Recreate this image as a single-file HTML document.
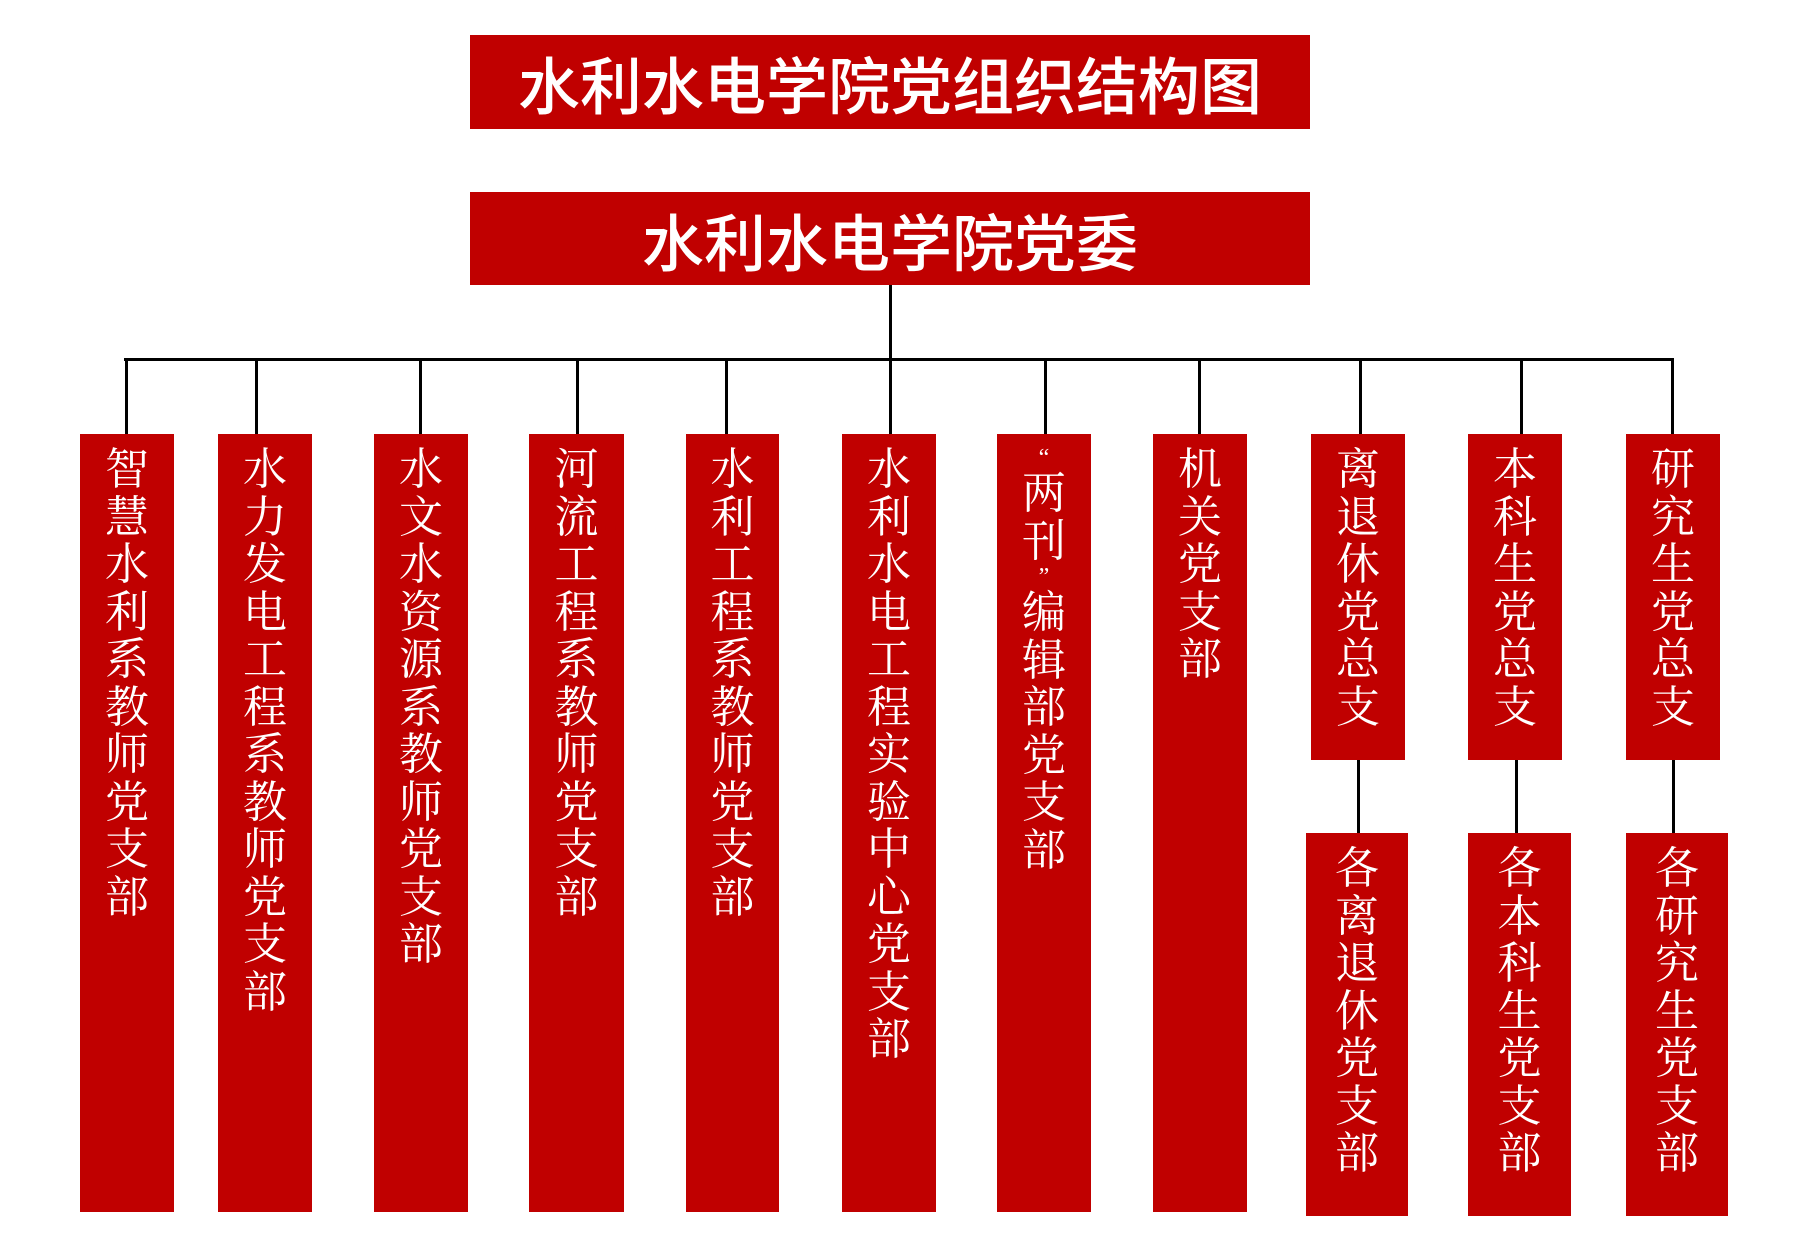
<!DOCTYPE html>
<html><head><meta charset="utf-8"><style>
body{margin:0;width:1814px;height:1242px;background:#fff;position:relative;overflow:hidden}
.b{position:absolute;background:#C00000;color:#fff;box-sizing:border-box}
.h{display:flex;align-items:center;justify-content:center;font-family:"Liberation Sans","Noto Sans CJK SC",sans-serif;font-size:62px;font-weight:500}
.v{font-family:"Liberation Serif","Noto Serif CJK SC",serif;font-size:44px;line-height:47.5px;text-align:center;padding-top:12px}
.v span{display:block}
.q{font-size:24px;line-height:24px;height:24px}
.l{position:absolute;background:#000}
</style></head><body>
<div class="b h" style="left:470px;top:35px;width:840px;height:94px">水利水电学院党组织结构图</div>
<div class="b h" style="left:470px;top:192px;width:840px;height:93px">水利水电学院党委</div>
<div class="l" style="left:889px;top:285px;width:3px;height:75px"></div>
<div class="l" style="left:124px;top:358px;width:1550px;height:3px"></div>
<div class="l" style="left:125px;top:358px;width:3px;height:76px"></div>
<div class="l" style="left:255px;top:358px;width:3px;height:76px"></div>
<div class="l" style="left:419px;top:358px;width:3px;height:76px"></div>
<div class="l" style="left:576px;top:358px;width:3px;height:76px"></div>
<div class="l" style="left:725px;top:358px;width:3px;height:76px"></div>
<div class="l" style="left:889px;top:358px;width:3px;height:76px"></div>
<div class="l" style="left:1044px;top:358px;width:3px;height:76px"></div>
<div class="l" style="left:1198px;top:358px;width:3px;height:76px"></div>
<div class="l" style="left:1359px;top:358px;width:3px;height:76px"></div>
<div class="l" style="left:1520px;top:358px;width:3px;height:76px"></div>
<div class="l" style="left:1671px;top:358px;width:3px;height:76px"></div>
<div class="l" style="left:1357px;top:760px;width:3px;height:73px"></div>
<div class="l" style="left:1515px;top:760px;width:3px;height:73px"></div>
<div class="l" style="left:1672px;top:760px;width:3px;height:73px"></div>

<div class="b v" style="left:80px;top:434px;width:94px;height:778px"><span>智</span><span>慧</span><span>水</span><span>利</span><span>系</span><span>教</span><span>师</span><span>党</span><span>支</span><span>部</span></div>
<div class="b v" style="left:218px;top:434px;width:94px;height:778px"><span>水</span><span>力</span><span>发</span><span>电</span><span>工</span><span>程</span><span>系</span><span>教</span><span>师</span><span>党</span><span>支</span><span>部</span></div>
<div class="b v" style="left:374px;top:434px;width:94px;height:778px"><span>水</span><span>文</span><span>水</span><span>资</span><span>源</span><span>系</span><span>教</span><span>师</span><span>党</span><span>支</span><span>部</span></div>
<div class="b v" style="left:529px;top:434px;width:95px;height:778px"><span>河</span><span>流</span><span>工</span><span>程</span><span>系</span><span>教</span><span>师</span><span>党</span><span>支</span><span>部</span></div>
<div class="b v" style="left:686px;top:434px;width:93px;height:778px"><span>水</span><span>利</span><span>工</span><span>程</span><span>系</span><span>教</span><span>师</span><span>党</span><span>支</span><span>部</span></div>
<div class="b v" style="left:842px;top:434px;width:94px;height:778px"><span>水</span><span>利</span><span>水</span><span>电</span><span>工</span><span>程</span><span>实</span><span>验</span><span>中</span><span>心</span><span>党</span><span>支</span><span>部</span></div>
<div class="b v" style="left:997px;top:434px;width:94px;height:778px"><span class="q">“</span><span>两</span><span>刊</span><span class="q">”</span><span>编</span><span>辑</span><span>部</span><span>党</span><span>支</span><span>部</span></div>
<div class="b v" style="left:1153px;top:434px;width:94px;height:778px"><span>机</span><span>关</span><span>党</span><span>支</span><span>部</span></div>
<div class="b v" style="left:1311px;top:434px;width:94px;height:326px"><span>离</span><span>退</span><span>休</span><span>党</span><span>总</span><span>支</span></div>
<div class="b v" style="left:1468px;top:434px;width:94px;height:326px"><span>本</span><span>科</span><span>生</span><span>党</span><span>总</span><span>支</span></div>
<div class="b v" style="left:1626px;top:434px;width:94px;height:326px"><span>研</span><span>究</span><span>生</span><span>党</span><span>总</span><span>支</span></div>
<div class="b v" style="left:1306px;top:833px;width:102px;height:383px"><span>各</span><span>离</span><span>退</span><span>休</span><span>党</span><span>支</span><span>部</span></div>
<div class="b v" style="left:1468px;top:833px;width:103px;height:383px"><span>各</span><span>本</span><span>科</span><span>生</span><span>党</span><span>支</span><span>部</span></div>
<div class="b v" style="left:1626px;top:833px;width:102px;height:383px"><span>各</span><span>研</span><span>究</span><span>生</span><span>党</span><span>支</span><span>部</span></div>
</body></html>
